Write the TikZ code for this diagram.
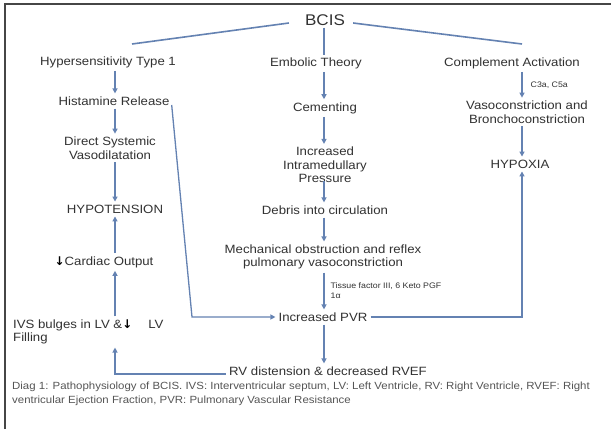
\documentclass[tikz,border=0pt]{standalone}
\usepackage{fontspec}
\setmainfont{Liberation Sans}[FakeStretch=1.1]
\newfontfamily\symfont{DejaVu Sans}
\usetikzlibrary{arrows.meta}
\definecolor{conn}{RGB}{100,130,178}
\definecolor{txt}{RGB}{50,50,50}
\definecolor{framec}{RGB}{70,70,70}
\definecolor{capc}{RGB}{85,85,85}
\tikzset{
  tn/.style={font=\fontsize{12}{13.5}\selectfont, text=txt, align=center, inner sep=2pt},
  small/.style={font=\fontsize{8}{10}\selectfont, text=txt, align=left, inner sep=1pt},
  captxt/.style={font=\fontsize{10.4}{14}\selectfont, text=capc, align=left, inner sep=0pt},
  arr/.style={draw=conn, line width=1.3pt, -{Triangle[width=5pt,length=5pt]}, shorten <=1pt, shorten >=1pt},
  link/.style={draw=conn, line width=1.6pt},
}
\begin{document}
\begin{tikzpicture}[x=1pt,y=-1pt]
\useasboundingbox (0,0) rectangle (611,429);
\fill[white] (0,0) rectangle (611,429);
\draw[framec, line width=1.5pt] (5,429) -- (5,4) -- (611,4);

\coordinate (colL) at (115,0);
\coordinate (colC) at (324,0);
\coordinate (colR) at (522,0);
\coordinate (bend) at (192,0);
\coordinate (hypTop) at (132,44);
\coordinate (compTop) at (522,44);

\node[tn, font=\fontsize{15.5}{17}\selectfont] (bcis) at (325,20) {BCIS};
\node[tn] (hyp) at (108,62) {Hypersensitivity Type 1};
\node[tn] (emb) at (316,63) {Embolic Theory};
\node[tn] (comp) at (512,63) {Complement Activation};
\node[tn] (hist) at (114,101) {Histamine Release};
\node[tn] (cem) at (325,108) {Cementing};
\node[tn] (vaso) at (527,112) {Vasoconstriction and\\Bronchoconstriction};
\node[tn] (dsv) at (110,148) {Direct Systemic\\Vasodilatation};
\node[tn] (iip) at (325,165) {Increased\\Intramedullary\\Pressure};
\node[tn] (hypox) at (520,164) {HYPOXIA};
\node[tn] (hypo) at (115,209) {HYPOTENSION};
\node[tn] (debris) at (325,210) {Debris into circulation};
\node[tn] (co) at (104,262) {{\symfont\bfseries\color{black}↓}Cardiac Output};
\node[tn] (mech) at (323,257) {Mechanical obstruction and reflex\\pulmonary vasoconstriction};
\node[tn, anchor=west, align=left] (ivs) at (11,332) {IVS bulges in LV \&{\symfont\bfseries\color{black}↓}\hspace{16pt}LV\\Filling};
\node[tn] (pvr) at (323,317) {Increased PVR};
\node[tn] (rv) at (328,371) {RV distension \& decreased RVEF};
\node[captxt, anchor=north west] (caption) at (12,382) {Diag 1: Pathophysiology of BCIS. IVS: Interventricular septum, LV: Left Ventricle, RV: Right Ventricle, RVEF: Right\\ventricular Ejection Fraction, PVR: Pulmonary Vascular Resistance};

% BCIS branches
\draw[link] ([xshift=-14pt,yshift=-3pt]bcis.west) -- (hypTop);
\draw[link] ([xshift=6pt,yshift=-3pt]bcis.east) -- (compTop);
\draw[link] (bcis.south -| colC) -- (emb.north -| colC);

% left column
\draw[arr] (hyp.south -| colL) -- (hist.north -| colL);
\draw[arr] (hist.south -| colL) -- (dsv.north -| colL);
\draw[arr] (dsv.south -| colL) -- (hypo.north -| colL);
\draw[arr] (co.north -| colL) -- (hypo.south -| colL);
\draw[arr] (ivs.north -| colL) -- (co.south -| colL);

% centre column
\draw[arr] (emb.south -| colC) -- (cem.north -| colC);
\draw[arr] (cem.south -| colC) -- (iip.north -| colC);
\draw[arr] ([yshift=5pt]iip.south -| colC) -- (debris.north -| colC);
\draw[arr] (debris.south -| colC) -- (mech.north -| colC);
\draw[arr] (mech.south -| colC) -- (pvr.north -| colC)
  node[small, midway, right=5pt] (tis) {Tissue factor III, 6 Keto PGF\\1α};
\draw[arr] (pvr.south -| colC) -- (rv.north -| colC);

% right column
\draw[arr] (comp.south -| colR) -- (vaso.north -| colR)
  node[small, midway, right=7pt] (c3a) {C3a, C5a};
\draw[arr] (vaso.south -| colR) -- (hypox.north -| colR);

% cross links
\draw[arr] ([yshift=-3pt]hist.east) -- (bend |- pvr.west) -- (pvr.west);
\draw[arr] (pvr.east) -| (hypox.south -| colR);
\draw[arr] ([yshift=-3pt]rv.west) -| (ivs.south -| colL);
\end{tikzpicture}
\end{document}
